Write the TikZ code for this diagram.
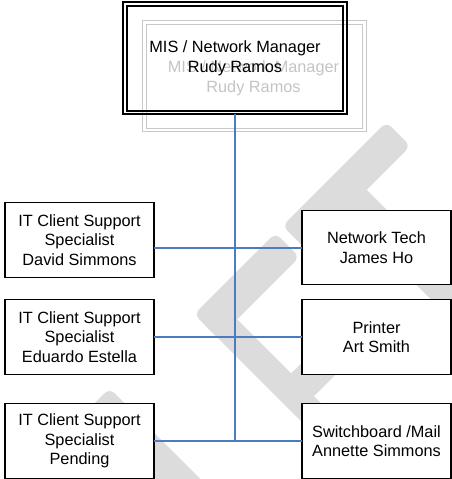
\documentclass[tikz,border=0pt]{standalone}
\usepackage{fontspec}
\setmainfont{Liberation Sans}
\definecolor{wm}{HTML}{DCDCDC}
\definecolor{connblue}{HTML}{4A7CC0}
\definecolor{shadowline}{HTML}{C8C8C8}
\definecolor{shadowtext}{HTML}{C4C4C4}
\tikzset{
  wmark/.style={fill=wm, rounded corners=7pt},
  orgfont/.style={font=\fontsize{16.3}{19.6}\selectfont},
  orgbox/.style={orgfont, draw=black, line width=1.2pt, fill=white, minimum width=149pt, minimum height=74.5pt, align=center, inner sep=2pt, outer sep=0pt},
  link/.style={draw=connblue, line width=1.2pt},
  shadowframe/.style={draw=shadowline, line width=1pt}
}
\begin{document}
\begin{tikzpicture}[x=1pt,y=-1pt]
\useasboundingbox (0,0) rectangle (452,479);
% watermark
\begin{scope}
\clip (0,0) rectangle (452,479);
% T bar and stem
\fill[wmark] (282.5,225.9) -- (386.4,122.0) -- (410.5,146.0) -- (306.5,250.0) -- cycle;
\fill[wmark] (327.4,195.9) -- (350.0,173.2) -- (597.5,420.7) -- (574.9,443.4) -- cycle;
% F bar, stem, middle bar
\fill[wmark] (194.1,314.3) -- (275.4,233.0) -- (299.5,257.0) -- (218.1,338.4) -- cycle;
\fill[wmark] (201.5,321.7) -- (220.6,302.6) -- (468.1,550.1) -- (449.0,569.2) -- cycle;
\fill[wmark] (282.8,381.8) -- (340.8,323.9) -- (363.5,346.5) -- (305.5,404.5) -- cycle;
% left stroke
\fill[wmark] (87.0,410.8) -- (109.6,388.2) -- (369.8,648.4) -- (347.2,671.1) -- cycle;
\end{scope}
% shadow copy of manager box
\draw[shadowframe] (142,20) rectangle (366,131);
\draw[shadowframe] (146,24) rectangle (362,128);
\node[orgfont, text=shadowtext, align=center, inner sep=0pt] (mgrshadow) at (253.5,78) {MIS / Network Manager\\Rudy Ramos};
% manager box
\node[orgfont, draw=black, line width=1.1pt, minimum width=224pt, minimum height=112pt, outer sep=0pt, align=center] (mgr) at (235,58) {MIS / Network Manager\\Rudy Ramos};
\draw[line width=1.1pt] ([shift={(4,4)}]mgr.north west) rectangle ([shift={(-4,-3)}]mgr.south east);
% staff boxes
\node[orgbox] (david) at (79.5,240) {IT Client Support\\Specialist\\David Simmons};
\node[orgbox] (edu) at (79.5,337) {IT Client Support\\Specialist\\Eduardo Estella};
\node[orgbox] (pend) at (79.5,441) {IT Client Support\\Specialist\\Pending};
\node[orgbox] (nt) at (376.5,247.5) {Network Tech\\James Ho};
\node[orgbox] (prn) at (376.5,337) {Printer\\Art Smith};
\node[orgbox] (sw) at (376.5,441) {Switchboard /Mail\\Annette Simmons};
% connectors
\coordinate (j1) at (235,248);
\coordinate (j3) at (mgr.south |- sw.west);
\draw[link] (mgr.south) -- (j3);
\draw[link] (david.east |- j1) -- (nt.west |- j1);
\draw[link] (edu.east) -- (prn.west);
\draw[link] (pend.east) -- (sw.west);
\end{tikzpicture}
\end{document}
